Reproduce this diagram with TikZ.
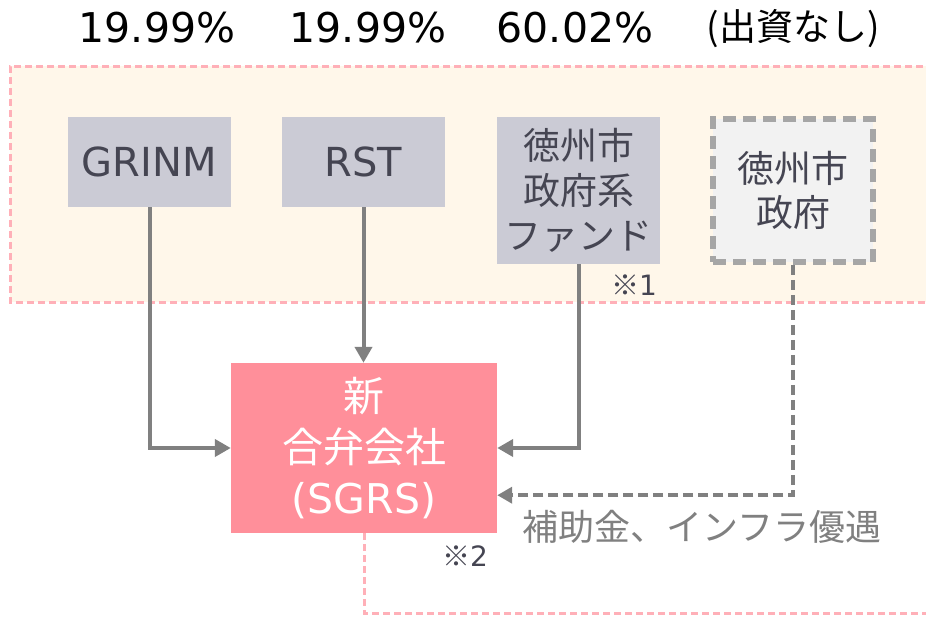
\documentclass[tikz,border=0pt]{standalone}
\usepackage{fontspec}
\setmainfont{DejaVu Sans}
\newfontfamily\jp{Noto Sans CJK JP}
\usetikzlibrary{arrows.meta}
\definecolor{boxgray}{HTML}{CBCBD5}
\definecolor{boxtext}{HTML}{454552}
\definecolor{govfill}{HTML}{F2F2F2}
\definecolor{govline}{HTML}{A6A6A6}
\definecolor{sgrsfill}{HTML}{FF8F9A}
\definecolor{arrgray}{HTML}{808080}
\definecolor{pinkline}{HTML}{FFB0B8}
\definecolor{regfill}{HTML}{FFF7EA}
\tikzset{
  grayb/.style={fill=boxgray, text=boxtext, minimum width=163pt, minimum height=90pt, inner sep=0pt, align=center},
  govb/.style={fill=govfill, draw=govline, line width=5.5pt, dash pattern=on 13pt off 7pt, text=boxtext, minimum width=160pt, minimum height=143pt, inner sep=0pt, align=center},
  sgrsb/.style={fill=sgrsfill, text=white, minimum width=266pt, minimum height=170pt, inner sep=0pt, align=center},
  arr/.style={draw=arrgray, line width=4pt, -{Triangle[length=16pt,width=17pt]}},
  darr/.style={draw=arrgray, line width=4pt, dash pattern=on 10pt off 5pt, -{Triangle[length=15pt,width=16pt]}},
  pinkd/.style={draw=pinkline, line width=3pt, dash pattern=on 7pt off 4pt},
  toplab/.style={text=black, inner sep=0pt},
  note/.style={text=boxtext, inner sep=0pt, font=\fontsize{28}{32}\selectfont},
}
\begin{document}
\begin{tikzpicture}[x=1pt,y=-1pt]
\useasboundingbox (0,0) rectangle (926,616);
\clip (0,0) rectangle (926,616);
% region
\fill[regfill] (10,66) rectangle (945,302);
\draw[pinkd] (945,66) -- (10,66) -- (10,302) -- (945,302);
% top labels
\node[toplab, font=\fontsize{41}{46}\selectfont] (p1) at (157,28) {19.99\%};
\node[toplab, font=\fontsize{41}{46}\selectfont] (p2) at (368,28) {19.99\%};
\node[toplab, font=\fontsize{41}{46}\selectfont] (p3) at (575,28) {60.02\%};
\node[toplab, font=\fontsize{37}{44}\selectfont\jp] (p4) at (793,29) {(出資なし)};
% boxes
\node[grayb, font=\fontsize{40}{46}\selectfont] (grinm) at (149.5,162) {GRINM};
\node[grayb, font=\fontsize{40}{46}\selectfont] (rst) at (363.5,162) {RST};
\node[grayb, minimum height=147pt, font=\fontsize{37}{45}\selectfont\jp] (fund) at (578.5,190.5) {徳州市\\政府系\\ファンド};
\node[govb, font=\fontsize{37}{44}\selectfont\jp] (gov) at (793,190.5) {徳州市\\政府};
\node[sgrsb, font=\fontsize{41}{51}\selectfont] (sgrs) at (364,448) {{\jp 新}\\{\jp 合弁会社}\\(SGRS)};
% notes
\node[note] (n1) at (634,285) {{\jp ※}1};
\node[note] (n2) at (465,556) {{\jp ※}2};
\node[text=arrgray, inner sep=0pt, font=\fontsize{36}{40}\selectfont\jp] (sub) at (702,527) {補助金、インフラ優遇};
% connectors
\draw[arr] (grinm.south) |- (sgrs.west);
\draw[arr] (rst.south) -- (rst.south |- sgrs.north);
\draw[arr] (fund.south) |- (sgrs.east);
\draw[darr] (gov.south) |- ([yshift=38pt]sgrs.south east);
\coordinate (pe) at (945,613);
\draw[pinkd] (sgrs.south) |- (pe);
\end{tikzpicture}
\end{document}
